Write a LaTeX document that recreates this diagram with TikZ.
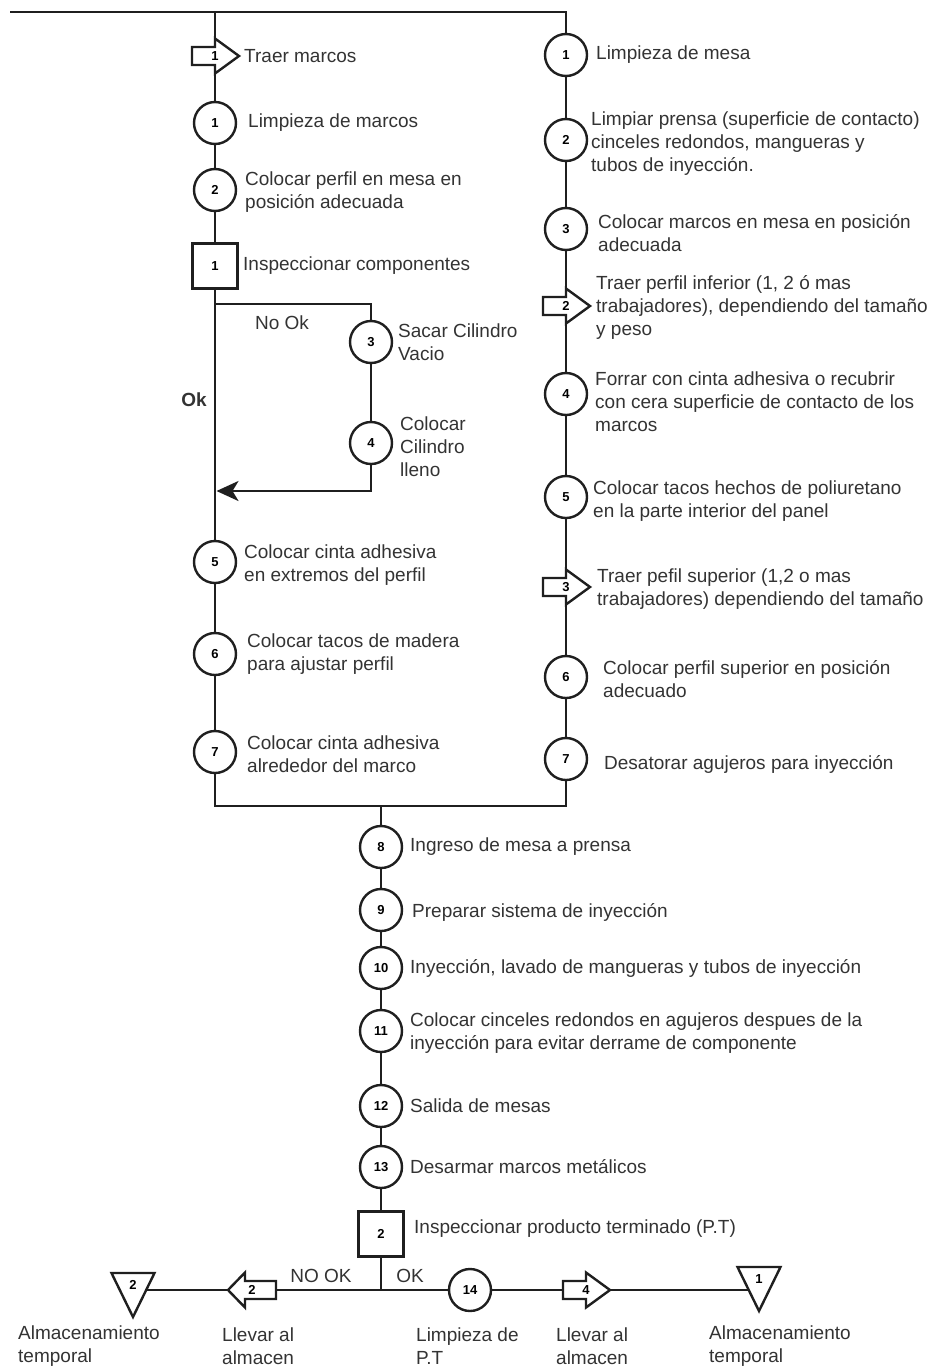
\documentclass[tikz,border=0pt]{standalone}
\usepackage{fontspec}
\setmainfont{Liberation Sans}
\usetikzlibrary{arrows.meta,calc}
\pgfdeclarelayer{bg}
\pgfsetlayers{bg,main}
\newcommand\numf{\fontsize{13}{13}\selectfont\bfseries}
\newcommand\txtf{\fontsize{19}{23}\selectfont}
\tikzset{
  ln/.style={line width=2.6pt, draw=black!88, line join=miter},
  op/.style={circle, draw=black!88, line width=2.4pt, fill=white, minimum size=42pt, inner sep=0pt, font=\numf},
  insp/.style={rectangle, draw=black!88, line width=2.4pt, fill=white, minimum size=45pt, inner sep=0pt, font=\numf},
  shp/.style={draw=black!88, line width=2.4pt, fill=white, line join=miter},
  numlbl/.style={inner sep=0pt, font=\numf},
  txt/.style={anchor=west, align=left, inner sep=0pt, font=\txtf, text=black!80},
  ctxt/.style={inner sep=0pt, font=\txtf, text=black!80},
}
% transport arrow pointing right: name, body-left x, y, number
\newcommand\TrRight[4]{%
  \path[shp] (#2,#3-9) -- (#2+23,#3-9) -- (#2+23,#3-17.5) -- (#2+47,#3) -- (#2+23,#3+17.5) -- (#2+23,#3+9) -- (#2,#3+9) -- cycle;
  \node[numlbl] (#1) at (#2+23,#3) {#4};}
% transport arrow pointing left: name, tip x, y, number
\newcommand\TrLeft[4]{%
  \path[shp] (#2,#3) -- (#2+17,#3-17.5) -- (#2+17,#3-9) -- (#2+48,#3-9) -- (#2+48,#3+9) -- (#2+17,#3+9) -- (#2+17,#3+17.5) -- cycle;
  \node[numlbl] (#1) at (#2+24,#3) {#4};}
% storage triangle: name, centre x, top y, number
\newcommand\StoreTri[4]{%
  \path[shp] (#2-21.5,#3) -- (#2+21.5,#3) -- (#2,#3+44) -- cycle;
  \node[numlbl] (#1) at (#2,#3+12) {#4};}

\begin{document}
\begin{tikzpicture}[x=1pt,y=-1pt]
\useasboundingbox (0,0) rectangle (932,1368);

% ---- junction coordinates
\coordinate (start) at (10,12);
\coordinate (tl) at (215,12);
\coordinate (tr) at (566,12);
\coordinate (jL) at (215,304);
\coordinate (jR) at (371,304);
\coordinate (jR2) at (371,491);
\coordinate (j2) at (215,491);
\coordinate (bl) at (215,806);
\coordinate (br) at (566,806);
\coordinate (bm) at (381,806);
\coordinate (jb) at (381,1290);

% ---- left column
\TrRight{t1}{192}{56}{1}
\node[op] (c1) at (215,123) {1};
\node[op] (c2) at (215,190) {2};
\node[insp] (s1) at (215,266) {1};
\node[op] (c3) at (371,342) {3};
\node[op] (c4) at (371,443) {4};
\node[op] (c5) at (215,562) {5};
\node[op] (c6) at (215,654) {6};
\node[op] (c7) at (215,752) {7};

\node[txt] (tt1) at (244,56) {Traer marcos};
\node[txt] (tc1) at (248,123) {Limpieza de marcos};
\node[txt] (tc2) at (245,192.5) {Colocar perfil en mesa en\\posición adecuada};
\node[txt] (ts1) at (243,266) {Inspeccionar componentes};
\node[ctxt] (nok) at (282,323) {No Ok};
\node[ctxt, font=\txtf\bfseries] (ok) at (194,400) {Ok};
\node[txt] (tc3) at (398,342) {Sacar Cilindro\\Vacio};
\node[txt] (tc4) at (400,447) {Colocar\\Cilindro\\lleno};
\node[txt] (tc5) at (244,565) {Colocar cinta adhesiva\\en extremos del perfil};
\node[txt] (tc6) at (247,654) {Colocar tacos de madera\\para ajustar perfil};
\node[txt] (tc7) at (247,754) {Colocar cinta adhesiva\\alrededor del marco};

% ---- right column
\node[op] (r1) at (566,55) {1};
\node[op] (r2) at (566,140) {2};
\node[op] (r3) at (566,229) {3};
\TrRight{rt2}{543}{306}{2}
\node[op] (r4) at (566,394) {4};
\node[op] (r5) at (566,497) {5};
\TrRight{rt3}{543}{587}{3}
\node[op] (r6) at (566,677) {6};
\node[op] (r7) at (566,759) {7};

\node[txt] (tr1) at (596,55) {Limpieza de mesa};
\node[txt] (tr2) at (591,144) {Limpiar prensa (superficie de contacto)\\cinceles redondos, mangueras y\\tubos de inyección.};
\node[txt] (tr3) at (598,233) {Colocar marcos en mesa en posición\\adecuada};
\node[txt] (trt2) at (596,307) {Traer perfil inferior (1, 2 ó mas\\trabajadores), dependiendo del tamaño\\y peso};
\node[txt] (tr4) at (595,402) {Forrar con cinta adhesiva o recubrir\\con cera superficie de contacto de los\\marcos};
\node[txt] (tr5) at (593,501) {Colocar tacos hechos de poliuretano\\en la parte interior del panel};
\node[txt] (trt3) at (597,589) {Traer pefil superior (1,2 o mas\\trabajadores) dependiendo del tamaño};
\node[txt] (tr6) at (603,679) {Colocar perfil superior en posición\\adecuado};
\node[txt] (tr7) at (604,764) {Desatorar agujeros para inyección};

% ---- middle column
\node[op] (c8) at (381,847) {8};
\node[op] (c9) at (381,910) {9};
\node[op] (c10) at (381,968) {10};
\node[op] (c11) at (381,1031) {11};
\node[op] (c12) at (381,1106) {12};
\node[op] (c13) at (381,1167) {13};
\node[insp] (s2) at (381,1234) {2};

\node[txt] (tc8) at (410,847) {Ingreso de mesa a prensa};
\node[txt] (tc9) at (412,912) {Preparar sistema de inyección};
\node[txt] (tc10) at (410,968) {Inyección, lavado de mangueras y tubos de inyección};
\node[txt] (tc11) at (410,1033) {Colocar cinceles redondos en agujeros despues de la\\inyección para evitar derrame de componente};
\node[txt] (tc12) at (410,1106) {Salida de mesas};
\node[txt] (tc13) at (410,1167) {Desarmar marcos metálicos};
\node[txt] (ts2) at (414,1229) {Inspeccionar producto terminado (P.T)};

% ---- bottom row
\StoreTri{tri2}{133}{1273}{2}
\TrLeft{ta2}{228}{1290}{2}
\node[op] (c14) at (470,1290) {14};
\TrRight{ta4}{563}{1290}{4}
\StoreTri{tri1}{759}{1267}{1}

\node[ctxt] (nook) at (321,1276) {NO OK};
\node[ctxt] (okb) at (410,1276) {OK};
\node[txt] (ltri2) at (18,1346) {Almacenamiento\\temporal};
\node[txt] (lta2) at (222,1346) {Llevar al\\almacen};
\node[txt] (lc14) at (416,1346) {Limpieza de\\P.T};
\node[txt] (lta4) at (556,1346) {Llevar al\\almacen};
\node[txt] (ltri1) at (709,1346) {Almacenamiento\\temporal};

% ---- connectors (behind the symbols)
\begin{pgfonlayer}{bg}
\draw[ln] (start) -- (tl) -- (tr) -- (r1);
\draw[ln] (r1) -- (r2) -- (r3) -- (rt2) -- (r4) -- (r5) -- (rt3) -- (r6) -- (r7);
\draw[ln] (r7) -- (br) -- (bl) -- (c7);
\draw[ln] (tl) -- (t1) -- (c1) -- (c2) -- (s1);
\draw[ln] (s1) -- (c5) -- (c6) -- (c7);
\draw[ln] (jL) -- (jR) -- (c3) -- (c4);
\draw[ln, -{Stealth[length=22pt, width=20pt, inset=6pt]}, shorten >=-0.5pt] (c4) -- (jR2) -- ($(j2)+(2,0)$);
\draw[ln] (bm) -- (c8) -- (c9) -- (c10) -- (c11) -- (c12) -- (c13) -- (s2) -- (jb);
\draw[ln] (tri2 |- jb) -- (ta2) -- (jb) -- (c14) -- (ta4) -- (tri1 |- jb);
\end{pgfonlayer}
\end{tikzpicture}
\end{document}
